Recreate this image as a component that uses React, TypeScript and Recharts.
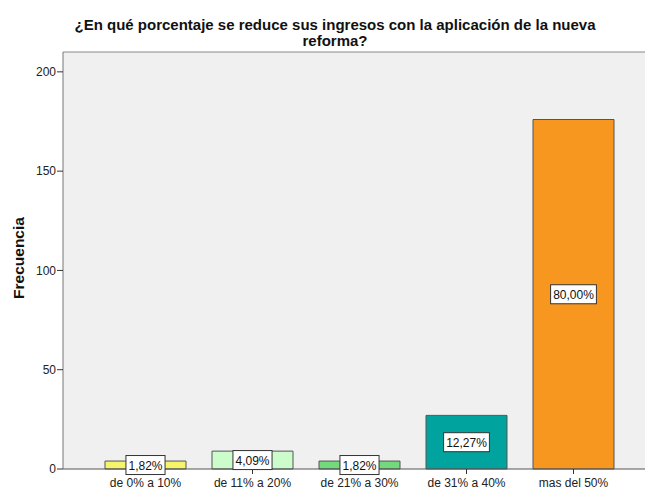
import { Bar, BarChart, CartesianGrid, Cell, LabelList, ReferenceLine, XAxis, YAxis } from 'recharts'

const categories = ['de 0% a 10%', 'de 11% a 20%', 'de 21% a 30%', 'de 31% a 40%', 'mas del 50%']
const counts = [4, 9, 4, 27, 176]
const percentLabels = ['1,82%', '4,09%', '1,82%', '12,27%', '80,00%']
const barColors = ['#f7f36a', '#ccfccc', '#72d97c', '#00a39d', '#f7971f']
const yTicks = [0, 50, 100, 150, 200]

const data = categories.map((name, i) => ({ name, count: counts[i], pct: percentLabels[i] }))

const FONT = '"Liberation Sans", Arial, sans-serif'

// rough Arial widths at 12px, enough to size the white label boxes
const textWidth = (s: string): number =>
  s.split('').reduce((w, ch) => w + (ch === ',' ? 3.3 : ch === '%' ? 10.7 : 6.7), 0)

function PctBox(props: any) {
  const { x, y, width, height, value } = props
  const cx = Number(x) + Number(width) / 2
  const cy = Number(y) + Number(height) / 2
  const w = textWidth(String(value)) + 5
  const h = 19
  return (
    <g>
      <rect x={cx - w / 2} y={cy - h / 2} width={w} height={h} fill="#ffffff" stroke="#333" strokeWidth={1} />
      <text x={cx} y={cy + 4.5} textAnchor="middle" fontSize={12} fontFamily={FONT} fill="#111">
        {value}
      </text>
    </g>
  )
}

export default function App() {
  return (
    <div
      style={{
        position: 'fixed',
        left: 0,
        top: 0,
        width: 645,
        height: 489,
        overflow: 'hidden',
        background: '#ffffff',
        fontFamily: FONT,
      }}
    >
      <div
        style={{
          position: 'absolute',
          left: 0,
          width: 670,
          top: 17,
          textAlign: 'center',
          fontWeight: 'bold',
          fontSize: 15,
          lineHeight: '16px',
          color: '#111',
        }}
      >
        ¿En qué porcentaje se reduce sus ingresos con la aplicación de la nueva
        <br />
        reforma?
      </div>
      <div
        style={{
          position: 'absolute',
          left: 19,
          top: 258,
          transform: 'translate(-50%, -50%) rotate(-90deg)',
          fontWeight: 'bold',
          fontSize: 15.5,
          color: '#111',
          whiteSpace: 'nowrap',
        }}
      >
        Frecuencia
      </div>
      <BarChart
        width={656}
        height={489}
        data={data}
        margin={{ top: 52, right: 0, bottom: 0, left: 0 }}
        barSize={81}
      >
        <CartesianGrid horizontal={false} vertical={false} fill="#f0f0f0" />
        <XAxis
          dataKey="name"
          height={20}
          padding={{ left: 29, right: 29 }}
          tickSize={5}
          tickMargin={4}
          interval={0}
          axisLine={{ stroke: '#555' }}
          tickLine={{ stroke: '#333' }}
          tick={{ fontSize: 12, fill: '#222', fontFamily: FONT }}
        />
        <YAxis
          width={63}
          domain={[0, 210]}
          ticks={yTicks}
          tickSize={6}
          tickMargin={1}
          axisLine={{ stroke: '#777' }}
          tickLine={{ stroke: '#333' }}
          tick={{ fontSize: 12, fill: '#222', fontFamily: FONT }}
        />
        <ReferenceLine y={210} stroke="#888" />
        <Bar dataKey="count" stroke="#555" strokeWidth={1} isAnimationActive={false}>
          {data.map((d, i) => (
            <Cell key={d.name} fill={barColors[i]} />
          ))}
          <LabelList dataKey="pct" content={PctBox} />
        </Bar>
      </BarChart>
    </div>
  )
}
